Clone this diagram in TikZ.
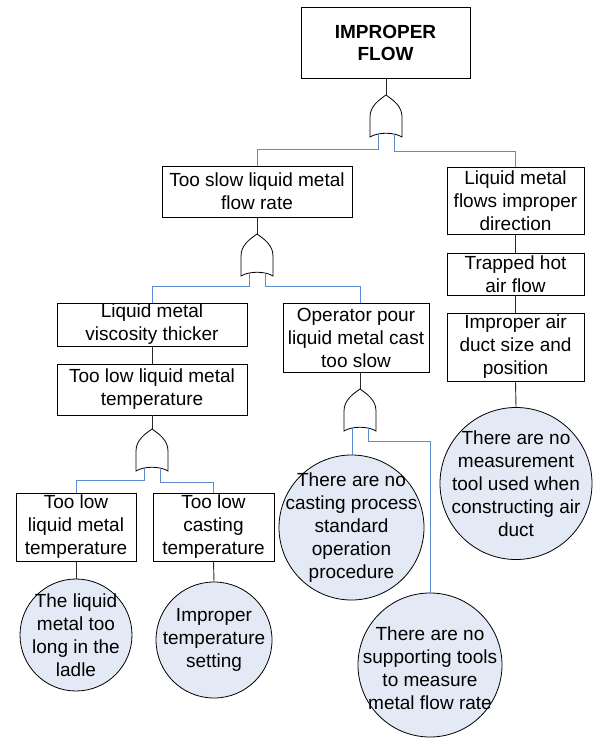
\documentclass[tikz,border=0pt]{standalone}
\usepackage{fontspec}
\setmainfont{Liberation Sans}
\definecolor{evfill}{RGB}{228,234,245}
\definecolor{feedblue}{RGB}{96,138,208}
\definecolor{linkgray}{RGB}{40,40,40}
\tikzset{
  wh/.style 2 args={minimum width=#1pt, minimum height=#2pt},
  box/.style={draw=black, line width=0.9pt, rectangle, inner sep=1pt},
  event/.style={draw=black, line width=0.8pt, circle, fill=evfill, inner sep=0pt},
  evtext/.style={inner sep=0pt},
  link/.style={draw=linkgray, line width=0.9pt},
  feed/.style={draw=feedblue, line width=0.9pt},
  gateline/.style={draw=black, line width=0.8pt, fill=white},
  % OR gate: apex at the pic origin, inputs on the concave base
  orgate/.pic={
    \path[gateline] (-16,42) -- (-16,22) .. controls (-16,11) and (-7,5) .. (0,0)
      .. controls (7,5) and (16,11) .. (16,22) -- (16,42)
      .. controls (8,37) and (-8,37) .. cycle;
    \coordinate (-top) at (0,0);
    \coordinate (-l) at (-8,39.2);
    \coordinate (-r) at (8,39.2);
  }
}
\begin{document}
\begin{tikzpicture}[x=1pt,y=-1pt,
  every node/.style={font=\fontsize{19}{23}\selectfont, align=center}]
\useasboundingbox (0,0) rectangle (592,738);

% events
\node[box, wh={169}{71}, font=\fontsize{19}{22}\selectfont\bfseries] (top) at (385.5,42.5) {IMPROPER\\FLOW};
\node[box, wh={190}{51}] (slow) at (257,191.5) {Too slow liquid metal\\flow rate};
\node[box, wh={137}{67}] (dir) at (515.5,200.5) {Liquid metal\\flows improper\\direction};
\node[box, wh={137}{42}] (trap) at (515.5,274) {Trapped hot\\air flow};
\node[box, wh={137}{68}] (duct) at (515.5,347) {Improper air\\duct size and\\position};
\node[box, wh={190}{43}] (visc) at (152,324.5) {Liquid metal\\viscosity thicker};
\node[box, wh={190}{51}] (lowt) at (152,389.5) {Too low liquid metal\\temperature};
\node[box, wh={146}{69}] (pour) at (356,337.5) {Operator pour\\liquid metal cast\\too slow};
\node[box, wh={120}{68}] (lowa) at (76,527) {Too low\\liquid metal\\temperature};
\node[box, wh={121}{68}] (lowc) at (213.5,527) {Too low\\casting\\temperature};

% basic events
\node[event, minimum size=112pt] (ladle) at (76,635) {};
\node[evtext] (ladlet) at (ladle.center) {The liquid\\metal too\\long in the\\ladle};
\node[event, minimum size=116pt] (sett) at (214,640) {};
\node[evtext] (settt) at (sett.center) {Improper\\temperature\\setting};
\node[event, minimum size=145pt] (sop) at (351.5,527.5) {};
\node[evtext] (sopt) at (sop.center) {There are no\\casting process\\standard\\operation\\procedure};
\node[event, minimum size=144pt] (tools) at (430,665) {};
\node[evtext] (toolst) at (430,668) {There are no\\supporting tools\\to measure\\metal flow rate};
\node[event, minimum size=152pt] (meas) at (516,483.5) {};
\node[evtext] (meast) at (meas.center) {There are no\\measurement\\tool used when\\constructing air\\duct};

% gates
\pic (ga) at (386,95) {orgate};
\pic (gb) at (257,234) {orgate};
\pic (gc) at (152,429) {orgate};
\pic (gd) at (360,389) {orgate};

% event to gate links
\draw[link] (ga-top |- top.south) -- (ga-top);
\draw[link] (slow.south) -- (gb-top);
\draw[link] (lowt.south) -- (gc-top);
\draw[link] (gd-top |- pour.south) -- (gd-top);
\draw[link] (visc.south) -- (lowt.north);
\draw[link] (dir.south) -- (trap.north);
\draw[link] (trap.south) -- (duct.north);
\draw[link] (duct.south) -- (meas.north);
\draw[link] (lowa.south) -- (ladle.north);
\draw[link] (lowc.south) -- (sett.north);

% gate inputs
\draw[feed] (ga-l) -- (ga-l |- 0,149) -| (slow.north);
\draw[feed] (ga-r) -- (ga-r |- 0,151) -| (dir.north);
\draw[feed] (gb-l) -- (gb-l |- 0,286) -| (visc.north);
\draw[feed] (gb-r) -- (gb-r |- 0,286) -| (gd-top |- pour.north);
\draw[feed] (gc-l) -- (gc-l |- 0,480) -| (lowa.north);
\draw[feed] (gc-r) -- (gc-r |- 0,482) -| (lowc.north);
\draw[feed] (gd-l) -- (gd-l |- sop.north);
\draw[feed] (gd-r) -- (gd-r |- 0,441) -| (tools.north);
\end{tikzpicture}
\end{document}
